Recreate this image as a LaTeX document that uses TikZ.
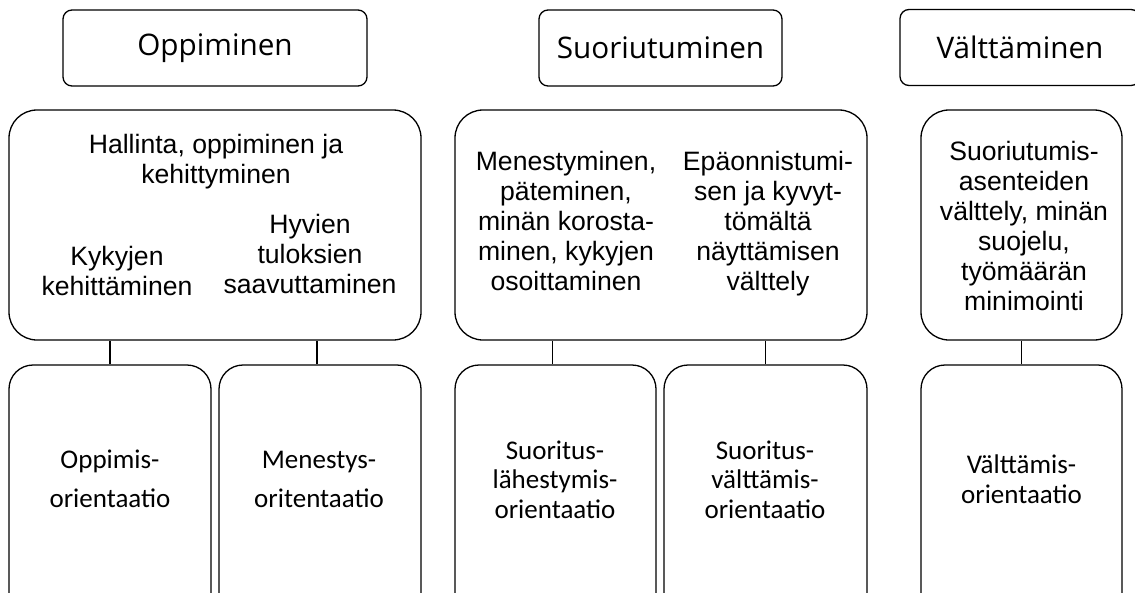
\documentclass[tikz,border=0pt]{standalone}
\usepackage{fontspec}
\setmainfont{Liberation Sans}
\newfontfamily\headfont{Open Sans}
\newfontfamily\calfont{Carlito}
\begin{document}
\begin{tikzpicture}[x=1pt,y=-1pt,
  box/.style={draw=black, line width=1.3pt, inner sep=0pt},
  topbox/.style={box, rounded corners=9pt, minimum height=76pt,
     font=\headfont\fontsize{29.7}{34}\selectfont},
  midbox/.style={box, rounded corners=28pt, minimum height=230pt},
  botbox/.style={box, rounded corners=24pt, minimum height=255pt},
  midtxt/.style={align=center, anchor=base, inner sep=0pt,
     font=\fontsize{26.6}{30}\selectfont},
  bottxt/.style={align=center, anchor=base, inner sep=0pt,
     font=\calfont\fontsize{27}{29.5}\selectfont},
  conn/.style={draw=black, line width=1.3pt}]
\useasboundingbox (0,0) rectangle (1135,592);
\clip (0,0) rectangle (1135,592);
% top headings
\node[topbox, minimum width=304pt] (t1) at (215,48) {Oppiminen};
\node[topbox, minimum width=243pt] (t2) at (660.5,48) {Suoriutuminen};
\node[topbox, minimum width=240pt] (t3) at (1020,47.5) {Välttäminen};
% middle boxes
\node[midbox, minimum width=412pt] (m1) at (215,225) {};
\node[midbox, minimum width=412pt] (m2) at (661,225) {};
\node[midbox, minimum width=201pt] (m3) at (1021.5,225) {};
% middle texts (anchor = baseline of last line)
\node[midtxt] (m1a) at (216,183) {Hallinta, oppiminen ja\\kehittyminen};
\node[midtxt] (m1b) at (117,295) {Kykyjen\\kehittäminen};
\node[midtxt] (m1c) at (310,293) {Hyvien\\tuloksien\\saavuttaminen};
\node[midtxt] (m2a) at (566,290) {Menestyminen,\\päteminen,\\minän korosta-\\minen, kykyjen\\osoittaminen};
\node[midtxt] (m2b) at (768,290) {Epäonnistumi-\\sen ja kyvyt-\\tömältä\\näyttämisen\\välttely};
\node[midtxt] (m3a) at (1024,310) {Suoriutumis-\\asenteiden\\välttely, minän\\suojelu,\\työmäärän\\minimointi};
% bottom boxes
\node[botbox, minimum width=202pt] (b1) at (110,492.5) {};
\node[botbox, minimum width=202pt] (b2) at (320,492.5) {};
\node[botbox, minimum width=201pt] (b3) at (555.5,492.5) {};
\node[botbox, minimum width=203pt] (b4) at (765.5,492.5) {};
\node[botbox, minimum width=201pt] (b5) at (1021.5,492.5) {};
% bottom texts
\node[bottxt, font=\calfont\fontsize{27}{39}\selectfont] (b1t) at (110,507) {Oppimis-\\orientaatio};
\node[bottxt, font=\calfont\fontsize{27}{39}\selectfont] (b2t) at (319,507) {Menestys-\\oritentaatio};
\node[bottxt] (b3t) at (555,518) {Suoritus-\\lähestymis-\\orientaatio};
\node[bottxt] (b4t) at (765,518) {Suoritus-\\välttämis-\\orientaatio};
\node[bottxt] (b5t) at (1021.5,503) {Välttämis-\\orientaatio};
% connectors
\draw[conn] (b1.north) -- (b1.north |- m1.south);
\draw[conn] ([xshift=-3pt]b2.north) -- ([xshift=-3pt]b2.north |- m1.south);
\draw[conn] ([xshift=-3pt]b3.north) -- ([xshift=-3pt]b3.north |- m2.south);
\draw[conn] (b4.north) -- (b4.north |- m2.south);
\draw[conn] (b5.north) -- (b5.north |- m3.south);
\end{tikzpicture}
\end{document}
